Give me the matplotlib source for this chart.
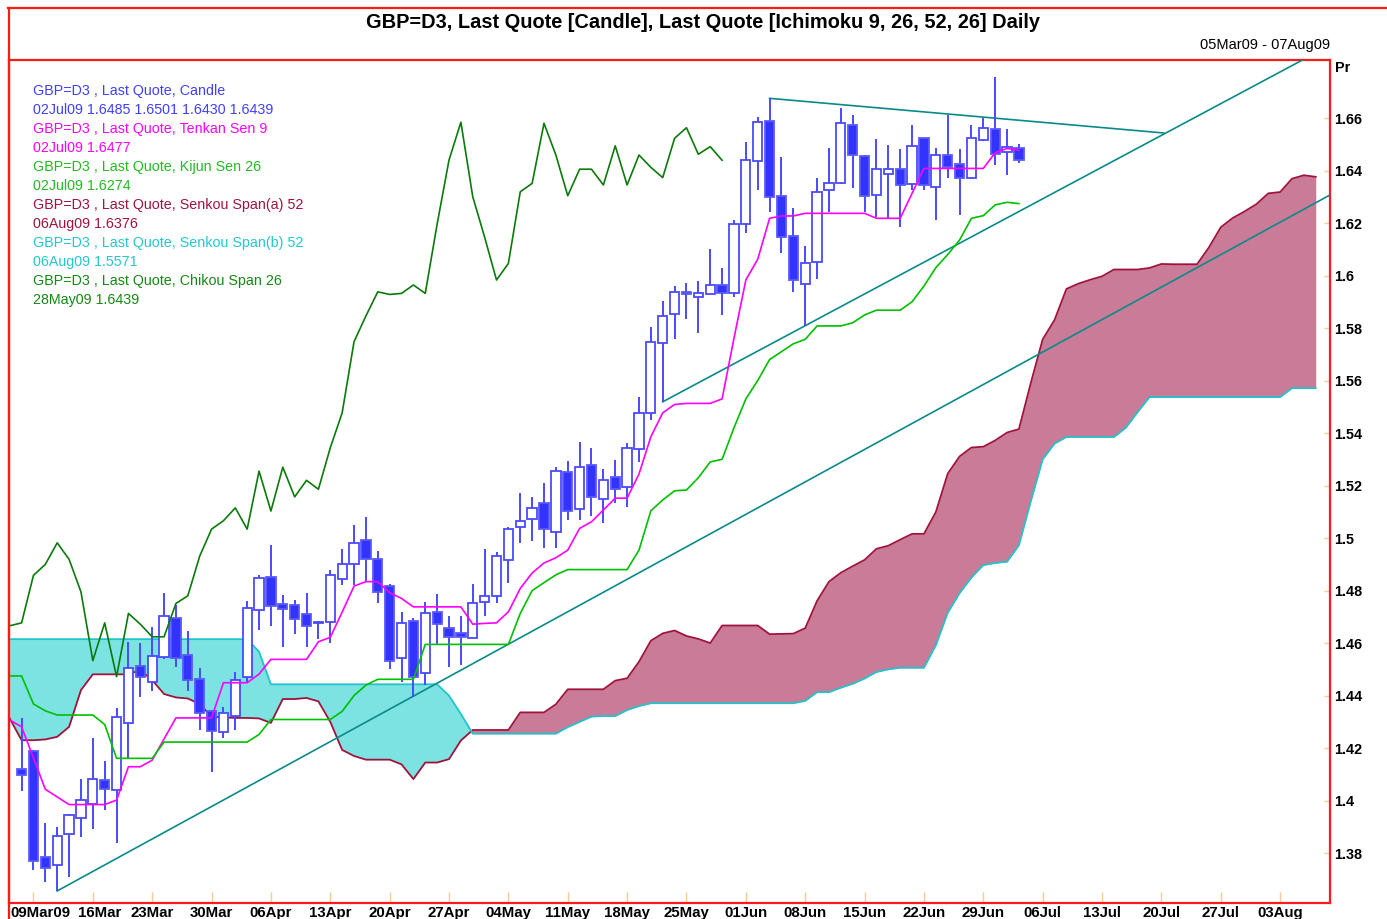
import numpy as np
import matplotlib
matplotlib.use("Agg")
import matplotlib.pyplot as plt
from matplotlib.transforms import ScaledTranslation
from matplotlib.lines import Line2D

plt.rcParams['font.family'] = ['Liberation Sans', 'DejaVu Sans']

# ---------------- data (x = trading-day index, 0 = 05Mar09) ----------------
tick_idx = [2, 7, 12, 17, 22, 27, 32, 37, 42, 47, 52, 57, 62, 67, 72, 77, 82, 87, 92, 97, 102, 107]
tick_labels = ['09Mar09', '16Mar', '23Mar', '30Mar', '06Apr', '13Apr', '20Apr', '27Apr', '04May',
               '11May', '18May', '25May', '01Jun', '08Jun', '15Jun', '22Jun', '29Jun', '06Jul',
               '13Jul', '20Jul', '27Jul', '03Aug']
ytick_vals = [1.38, 1.40, 1.42, 1.44, 1.46, 1.48, 1.50, 1.52, 1.54, 1.56, 1.58, 1.60, 1.62, 1.64, 1.66]
ytick_labels = ['1.38', '1.4', '1.42', '1.44', '1.46', '1.48', '1.5', '1.52', '1.54', '1.56',
                '1.58', '1.6', '1.62', '1.64', '1.66']

# candles: 06Mar09 (idx 1) .. 02Jul09 (idx 85)
opens = [1.4119, 1.4189, 1.3784, 1.3754, 1.3871, 1.3935, 1.3987, 1.4078, 1.4040, 1.4296,
         1.4512, 1.4450, 1.4548, 1.4694, 1.4554, 1.4462, 1.4342, 1.4260, 1.4322, 1.4472,
         1.4726, 1.4853, 1.4750, 1.4745, 1.4709, 1.4675, 1.4681, 1.4843, 1.4900, 1.4992,
         1.4920, 1.4818, 1.4544, 1.4684, 1.4485, 1.4719, 1.4656, 1.4637, 1.4620, 1.4755,
         1.4780, 1.4916, 1.5041, 1.5072, 1.5132, 1.5024, 1.5250, 1.5112, 1.5277, 1.5147,
         1.5231, 1.5193, 1.5339, 1.5475, 1.5744, 1.5852, 1.5938, 1.5918, 1.5930, 1.5964,
         1.5934, 1.6196, 1.6435, 1.6590, 1.6304, 1.6150, 1.5968, 1.6053, 1.6326, 1.6351,
         1.6573, 1.6455, 1.6306, 1.6387, 1.6405, 1.6347, 1.6523, 1.6336, 1.6459, 1.6424,
         1.6370, 1.6516, 1.6558, 1.6472, 1.6485]
highs = [1.4315, 1.4192, 1.3913, 1.3898, 1.3950, 1.4081, 1.4239, 1.4152, 1.4351, 1.4605,
         1.4599, 1.4660, 1.4792, 1.4745, 1.4646, 1.4507, 1.4345, 1.4355, 1.4491, 1.4761,
         1.4859, 1.4973, 1.4785, 1.4764, 1.4792, 1.4685, 1.4878, 1.4957, 1.5050, 1.5081,
         1.4952, 1.4824, 1.4719, 1.4694, 1.4757, 1.4787, 1.4703, 1.4703, 1.4824, 1.4957,
         1.4947, 1.5043, 1.5173, 1.5157, 1.5211, 1.5272, 1.5292, 1.5365, 1.5344, 1.5262,
         1.5297, 1.5361, 1.5536, 1.5805, 1.5903, 1.5960, 1.5970, 1.5979, 1.6100, 1.6027,
         1.6211, 1.6510, 1.6605, 1.6675, 1.6450, 1.6258, 1.6114, 1.6373, 1.6485, 1.6637,
         1.6611, 1.6458, 1.6519, 1.6497, 1.6481, 1.6573, 1.6525, 1.6485, 1.6611, 1.6481,
         1.6573, 1.6599, 1.6757, 1.6557, 1.6501]
lows = [1.4037, 1.3735, 1.3691, 1.3656, 1.3710, 1.3862, 1.3893, 1.3964, 1.3837, 1.4157,
        1.4393, 1.4418, 1.4540, 1.4510, 1.4418, 1.4269, 1.4110, 1.4237, 1.4269, 1.4453,
        1.4650, 1.4665, 1.4584, 1.4634, 1.4584, 1.4614, 1.4599, 1.4821, 1.4821, 1.4834,
        1.4754, 1.4500, 1.4451, 1.4394, 1.4440, 1.4592, 1.4510, 1.4516, 1.4618, 1.4703,
        1.4754, 1.4830, 1.4982, 1.4990, 1.4961, 1.4961, 1.5069, 1.5069, 1.5084, 1.5058,
        1.5132, 1.5117, 1.5291, 1.5450, 1.5519, 1.5757, 1.5835, 1.5780, 1.5928, 1.5850,
        1.5917, 1.6163, 1.6326, 1.6243, 1.6085, 1.5938, 1.5808, 1.5986, 1.6243, 1.6348,
        1.6332, 1.6243, 1.6224, 1.6218, 1.6186, 1.6326, 1.6326, 1.6211, 1.6370, 1.6230,
        1.6368, 1.6514, 1.6421, 1.6383, 1.6430]
closes = [1.4096, 1.3771, 1.3742, 1.3866, 1.3944, 1.4001, 1.4083, 1.4043, 1.4319, 1.4506,
          1.4472, 1.4552, 1.4703, 1.4544, 1.4459, 1.4332, 1.4265, 1.4332, 1.4459, 1.4734,
          1.4849, 1.4742, 1.4728, 1.4693, 1.4666, 1.4677, 1.4858, 1.4900, 1.4982, 1.4919,
          1.4795, 1.4533, 1.4677, 1.4472, 1.4713, 1.4672, 1.4624, 1.4624, 1.4751, 1.4780,
          1.4931, 1.5034, 1.5066, 1.5115, 1.5034, 1.5255, 1.5103, 1.5270, 1.5157, 1.5220,
          1.5186, 1.5344, 1.5477, 1.5748, 1.5846, 1.5938, 1.5928, 1.5932, 1.5964, 1.5932,
          1.6196, 1.6440, 1.6584, 1.6300, 1.6146, 1.5983, 1.6046, 1.6319, 1.6351, 1.6580,
          1.6459, 1.6304, 1.6405, 1.6405, 1.6345, 1.6494, 1.6345, 1.6459, 1.6412, 1.6373,
          1.6523, 1.6563, 1.6462, 1.6491, 1.6439]

# Tenkan Sen 9 and Kijun Sen 26, idx 0 .. 85
tenkan = [1.4307, 1.4281, 1.4162, 1.4043, 1.4014, 1.3985, 1.3985, 1.3985, 1.3985, 1.4002,
          1.4129, 1.4129, 1.4154, 1.4235, 1.4315, 1.4315, 1.4315, 1.4315, 1.4449, 1.4449,
          1.4449, 1.4482, 1.4538, 1.4538, 1.4538, 1.4538, 1.4605, 1.4622, 1.4718, 1.4817,
          1.4834, 1.4834, 1.4792, 1.4770, 1.4738, 1.4738, 1.4738, 1.4738, 1.4738, 1.4672,
          1.4675, 1.4677, 1.4719, 1.4808, 1.4867, 1.4905, 1.4925, 1.4954, 1.5037, 1.5062,
          1.5107, 1.5152, 1.5152, 1.5244, 1.5386, 1.5477, 1.5509, 1.5513, 1.5513, 1.5513,
          1.5530, 1.5761, 1.5983, 1.6062, 1.6218, 1.6227, 1.6227, 1.6237, 1.6237, 1.6237,
          1.6237, 1.6237, 1.6237, 1.6218, 1.6218, 1.6218, 1.6313, 1.6408, 1.6408, 1.6408,
          1.6408, 1.6408, 1.6408, 1.6468, 1.6484, 1.6477]
kijun = [1.4475, 1.4475, 1.4368, 1.4342, 1.4326, 1.4326, 1.4326, 1.4326, 1.4290, 1.4161,
         1.4161, 1.4161, 1.4161, 1.4223, 1.4223, 1.4223, 1.4223, 1.4223, 1.4223, 1.4223,
         1.4223, 1.4252, 1.4309, 1.4309, 1.4309, 1.4309, 1.4309, 1.4309, 1.4340, 1.4400,
         1.4440, 1.4462, 1.4462, 1.4462, 1.4462, 1.4595, 1.4595, 1.4595, 1.4595, 1.4595,
         1.4595, 1.4595, 1.4595, 1.4713, 1.4800, 1.4830, 1.4860, 1.4880, 1.4880, 1.4880,
         1.4880, 1.4880, 1.4880, 1.4954, 1.5104, 1.5145, 1.5180, 1.5183, 1.5230, 1.5290,
         1.5300, 1.5420, 1.5530, 1.5600, 1.5680, 1.5710, 1.5740, 1.5757, 1.5808, 1.5808,
         1.5808, 1.5820, 1.5850, 1.5868, 1.5868, 1.5868, 1.5900, 1.5960, 1.6030, 1.6080,
         1.6135, 1.6218, 1.6228, 1.6269, 1.6279, 1.6274]

# Senkou Span (a) and (b), idx 0 .. 110
span_a = [1.4313, 1.4230, 1.4230, 1.4233, 1.4243, 1.4281, 1.4421, 1.4481, 1.4481, 1.4481,
          1.4481, 1.4497, 1.4459, 1.4406, 1.4393, 1.4389, 1.4368, 1.4319, 1.4317, 1.4315,
          1.4315, 1.4313, 1.4296, 1.4387, 1.4387, 1.4391, 1.4378, 1.4300, 1.4193, 1.4170,
          1.4156, 1.4156, 1.4156, 1.4138, 1.4082, 1.4145, 1.4145, 1.4158, 1.4229, 1.4269,
          1.4269, 1.4269, 1.4269, 1.4336, 1.4336, 1.4336, 1.4367, 1.4424, 1.4424, 1.4424,
          1.4424, 1.4457, 1.4466, 1.4529, 1.4609, 1.4637, 1.4648, 1.4627, 1.4616, 1.4600,
          1.4667, 1.4667, 1.4667, 1.4667, 1.4634, 1.4635, 1.4636, 1.4657, 1.4761, 1.4834,
          1.4868, 1.4893, 1.4917, 1.4959, 1.4971, 1.4994, 1.5016, 1.5016, 1.5099, 1.5245,
          1.5311, 1.5345, 1.5348, 1.5372, 1.5402, 1.5415, 1.5591, 1.5757, 1.5831, 1.5949,
          1.5969, 1.5984, 1.5997, 1.6023, 1.6023, 1.6023, 1.6029, 1.6044, 1.6043, 1.6043,
          1.6043, 1.6107, 1.6184, 1.6219, 1.6244, 1.6272, 1.6313, 1.6318, 1.6369, 1.6382,
          1.6376]
span_b = [1.4615] * 21 + [1.4567] + [1.4443] * 15 + [1.4400, 1.4330] + [1.4255] * 8 + \
         [1.4280, 1.4300, 1.4320, 1.4322, 1.4322, 1.4345, 1.4360] + [1.4371] * 13 + \
         [1.4380, 1.4413, 1.4413, 1.4430, 1.4445, 1.4465, 1.4490, 1.4500, 1.4506, 1.4506,
          1.4506, 1.4592, 1.4715, 1.4790, 1.4850, 1.4897, 1.4905, 1.4910, 1.4973, 1.5140,
          1.5300, 1.5360] + [1.5385] * 5 + [1.5420, 1.5480] + [1.5537] * 12 + [1.5571] * 3

chikou_shift = 25  # Chikou Span plots each close 25 bars earlier

# trend lines drawn on the chart: (x0, y0, x1, y1)
trend_lines = [(4, 1.3656, 111.2, 1.6307),
               (55, 1.5519, 111.2, 1.6877),
               (64, 1.6675, 97.2, 1.6543)]

legend_lines = [
    ("GBP=D3 , Last Quote, Candle", '#4040FF'),
    ("02Jul09 1.6485 1.6501 1.6430 1.6439", '#4040FF'),
    ("GBP=D3 , Last Quote, Tenkan Sen 9", '#FF00FF'),
    ("02Jul09 1.6477", '#FF00FF'),
    ("GBP=D3 , Last Quote, Kijun Sen 26", '#22BB22'),
    ("02Jul09 1.6274", '#22BB22'),
    ("GBP=D3 , Last Quote, Senkou Span(a) 52", '#A0143C'),
    ("06Aug09 1.6376", '#A0143C'),
    ("GBP=D3 , Last Quote, Senkou Span(b) 52", '#22C8D0'),
    ("06Aug09 1.5571", '#22C8D0'),
    ("GBP=D3 , Last Quote, Chikou Span 26", '#138A13'),
    ("28May09 1.6439", '#138A13'),
]

# ---------------- figure ----------------
W, H = 1387, 919
fig = plt.figure(figsize=(W / 100, H / 100), dpi=100)
fig.patch.set_facecolor('white')
ax = fig.add_axes([9 / W, 16 / H, 1321 / W, 843 / H])
ax.set_xlim(-0.06, 111.2)
ax.set_ylim(1.3610, 1.6821)

RED = '#FF1A1A'
for s in ax.spines.values():
    s.set_color(RED)
    s.set_linewidth(1.6)

# cloud
xs = np.arange(len(span_a))
A = np.array(span_a)
B = np.array(span_b)
ax.fill_between(xs, A, B, where=B >= A, interpolate=True, color='#7CE2E2', lw=0, zorder=1)
ax.fill_between(xs, A, B, where=A > B, interpolate=True, color='#C97B97', lw=0, zorder=1)
ax.plot(xs, A, color='#A0143C', lw=1.3, zorder=3)
ax.plot(xs, B, color='#22C4CC', lw=1.3, zorder=3)

# trend lines
for (x0, y0, x1, y1) in trend_lines:
    ax.plot([x0, x1], [y0, y1], color='#0A8A8A', lw=1.2, zorder=4)

# candles
cx = np.arange(1, 1 + len(opens))
o = np.array(opens); h = np.array(highs); l = np.array(lows); c = np.array(closes)
ax.vlines(cx, l, h, color='#4A4AFF', lw=1.4, zorder=5)
up = c >= o
body_lo = np.minimum(o, c)
body_h = np.maximum(np.abs(c - o), 0.0004)
ax.bar(cx[up], body_h[up], bottom=body_lo[up], width=0.78, color='white',
       edgecolor='#4A4AFF', linewidth=1.3, zorder=6)
ax.bar(cx[~up], body_h[~up], bottom=body_lo[~up], width=0.78, color='#3333FF',
       edgecolor='#5A5AFF', linewidth=1.3, zorder=6)

# ichimoku lines
ax.plot(np.arange(len(tenkan)), tenkan, color='#FF00FF', lw=1.2, zorder=7)
ax.plot(np.arange(len(kijun)), kijun, color='#00C000', lw=1.2, zorder=7)
chikou = closes[chikou_shift - 1:]
ax.plot(np.arange(len(chikou)), chikou, color='#0B7A0B', lw=1.2, zorder=7)

# axes ticks
ax.set_xticks(tick_idx)
ax.set_xticklabels(tick_labels)
ax.tick_params(axis='x', direction='in', length=8, width=1, color='#FFC890', pad=2,
               labelsize=10.8)
ax.yaxis.tick_right()
ax.set_yticks(ytick_vals)
ax.set_yticklabels(ytick_labels)
ax.tick_params(axis='y', direction='in', length=4, width=1, color='#FFC890', pad=3,
               labelsize=10.4)
for lab in ax.get_xticklabels() + ax.get_yticklabels():
    lab.set_fontweight('bold')
xlabs = ax.get_xticklabels()
first = xlabs[0]
first.set_horizontalalignment('left')
first.set_transform(first.get_transform() + ScaledTranslation(-23.5 / 100, 0, fig.dpi_scale_trans))
second = xlabs[1]
second.set_transform(second.get_transform() + ScaledTranslation(7 / 100, 0, fig.dpi_scale_trans))

fig.text(1335 / W, 1 - 68 / H, 'Pr', fontsize=10.4, fontweight='bold', va='center', ha='left')

# legend text
for i, (txt, col) in enumerate(legend_lines):
    fig.text(33 / W, 1 - (91 + 19 * i) / H, txt, color=col, fontsize=10.3,
             va='center', ha='left')

# title area
fig.text(702.5 / W, 1 - 23 / H, 'GBP=D3, Last Quote [Candle], Last Quote [Ichimoku 9, 26, 52, 26] Daily',
         fontsize=14.4, fontweight='bold', ha='center', va='center')
fig.text(1330 / W, 1 - 45 / H, '05Mar09 - 07Aug09', fontsize=10.5, ha='right', va='center')

fig.add_artist(Line2D([8 / W, 1.0], [1 - 8 / H, 1 - 8 / H], color=RED, lw=1.6,
                      transform=fig.transFigure))
fig.add_artist(Line2D([9 / W, 9 / W], [0, 1 - 8 / H], color=RED, lw=1.6,
                      transform=fig.transFigure))

fig.savefig('out.png', dpi=100)
